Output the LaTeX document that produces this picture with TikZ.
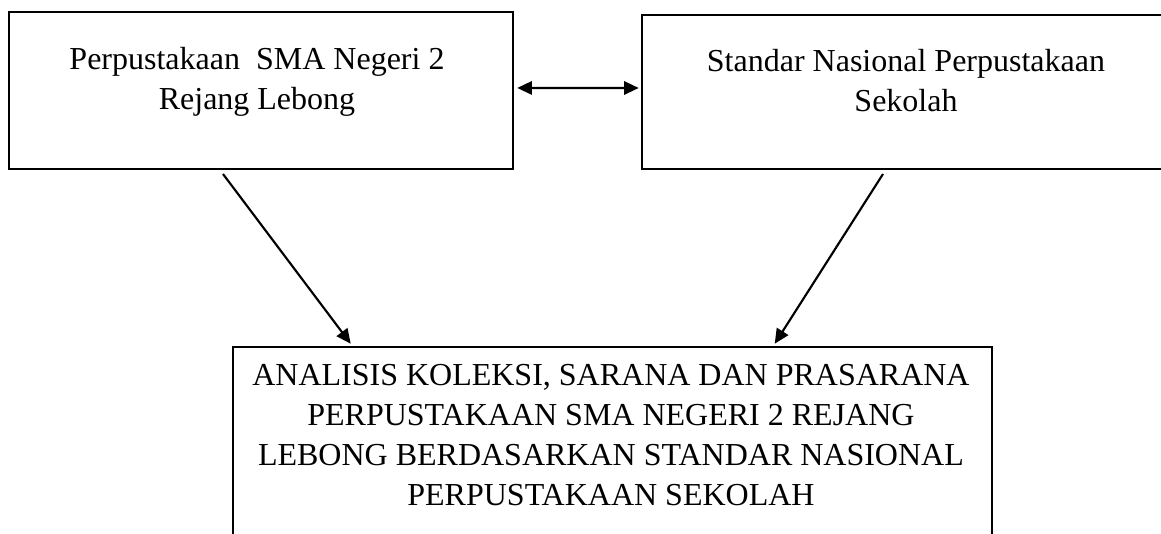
\documentclass[tikz,border=0pt]{standalone}
\usepackage{fontspec}
\setmainfont{Liberation Serif}
\usetikzlibrary{arrows.meta,calc}
\tikzset{
  boxnode/.style={draw=black, line width=1.9pt, inner sep=0pt},
  txt/.style={align=center, inner sep=0pt, font=\fontsize{24}{30}\selectfont},
  arr/.style={line width=1.6pt, -{Triangle[length=11pt,width=10pt]}},
  darr/.style={line width=1.6pt, {Triangle[length=11pt,width=10pt]}-{Triangle[length=11pt,width=10pt]}}
}
\begin{document}
\begin{tikzpicture}[x=0.75pt,y=-0.75pt]
\useasboundingbox (0,0) rectangle (1161,534);
\clip (0,0) rectangle (1161,534);
\node[boxnode, minimum width=504*0.75pt, minimum height=157*0.75pt] (L) at (261,90.5) {};
\node[boxnode, minimum width=528*0.75pt, minimum height=154*0.75pt] (R) at (906,92) {};
\node[boxnode, minimum width=759*0.75pt, minimum height=253*0.75pt] (B) at (612.5,473.5) {};
\node[txt, anchor=base] (Lt) at (257,110) {Perpustakaan\ \ SMA Negeri 2\\Rejang Lebong};
\node[txt, anchor=base] (Rt) at (906,112) {Standar Nasional Perpustakaan\\Sekolah};
\node[txt, anchor=base] (Bt) at (611,506) {ANALISIS KOLEKSI, SARANA DAN PRASARANA\\PERPUSTAKAAN SMA NEGERI 2 REJANG\\LEBONG BERDASARKAN STANDAR NASIONAL\\PERPUSTAKAAN SEKOLAH};
\coordinate (s1) at (223,174);
\coordinate (s2) at (883,174);
\coordinate (e1) at ($(B.north west)+(119,-2)$);
\coordinate (e2) at ($(B.north west)+(543,-2)$);
\draw[darr] ([xshift=2.25pt,yshift=1.9pt]L.east) -- ([xshift=-1.5pt,yshift=3pt]R.west);
\draw[arr] (s1) -- (e1);
\draw[arr] (s2) -- (e2);
\end{tikzpicture}
\end{document}
